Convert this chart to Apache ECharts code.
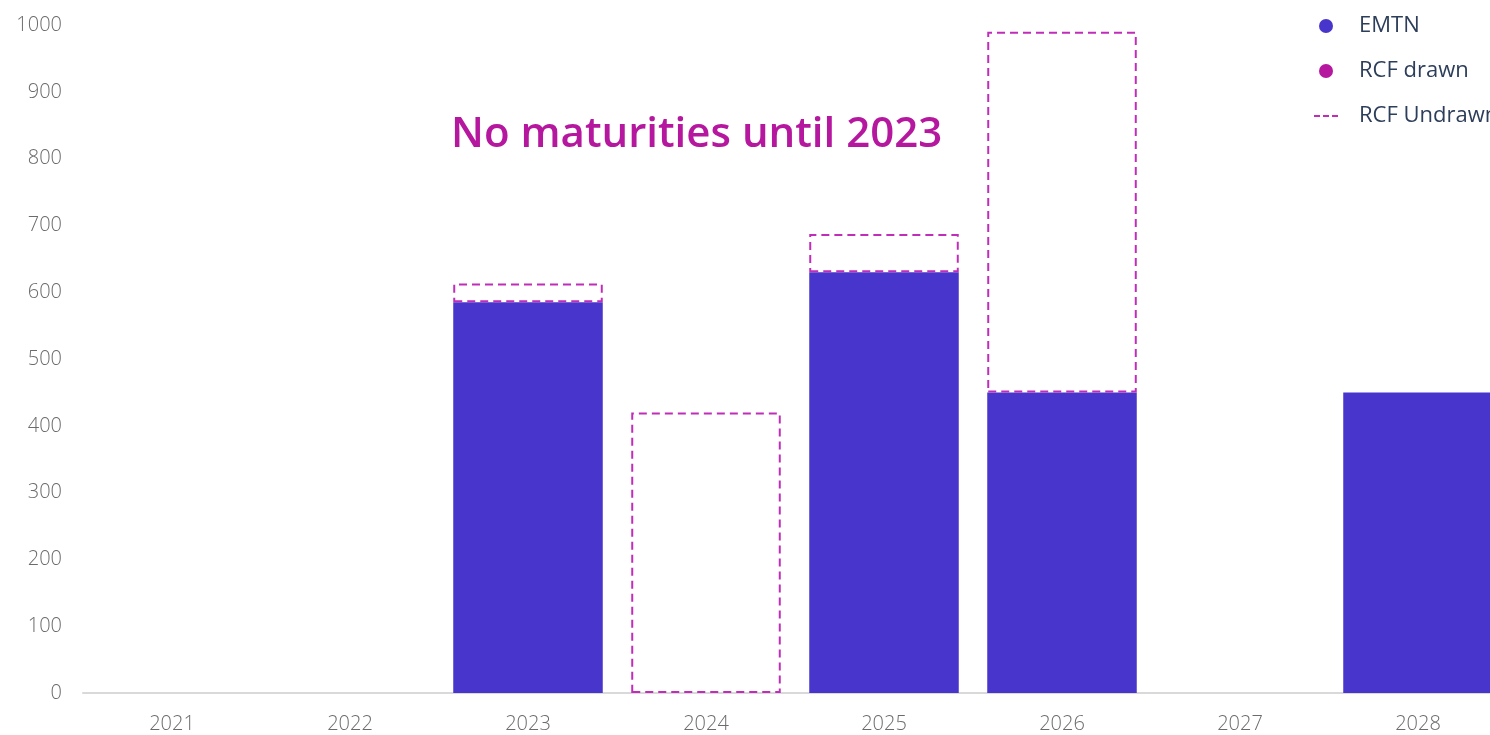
<!DOCTYPE html>
<html>
<head>
<meta charset="utf-8">
<script src="https://cdn.jsdelivr.net/npm/echarts@6/dist/echarts.min.js"></script>
<style>
  html, body { margin: 0; padding: 0; background: #ffffff; overflow: hidden; }
  #chart { width: 1600px; height: 735px; }
</style>
</head>
<body>
<div id="chart"></div>
<script>
// Debt maturity profile (EUR m)
const years = ['2021', '2022', '2023', '2024', '2025', '2026', '2027', '2028'];
const emtn = [0, 0, 585, 0, 630, 450, 0, 450];
const rcfDrawn = [0, 0, 0, 0, 0, 0, 0, 0];
const rcfUndrawn = [0, 0, 28, 420, 57, 540, 0, 0];
const yTicks = [0, 100, 200, 300, 400, 500, 600, 700, 800, 900, 1000];

const EMTN_COLOR = '#4836cc';
const DRAWN_COLOR = '#b5179e';
const UNDRAWN_COLOR = '#c02db8';

// empty slots are skipped so zero-height outlined bars are not drawn
const skipZero = arr => arr.map(v => (v === 0 ? '-' : v));

const chart = echarts.init(document.getElementById('chart'));

chart.setOption({
  animation: false,
  textStyle: { fontFamily: 'Open Sans' },
  grid: { left: 83, right: 93, top: 25, bottom: 42, containLabel: false },
  legend: {
    orient: 'vertical',
    left: 1309,
    top: 10,
    itemWidth: 24,
    itemHeight: 14,
    itemGap: 23,
    textStyle: { color: '#2d3e5a', fontSize: 22, padding: [0, 0, 0, 16] },
    data: [
      { name: 'EMTN', icon: 'circle', itemStyle: { color: EMTN_COLOR, borderWidth: 0 } },
      { name: 'RCF drawn', icon: 'circle', itemStyle: { color: DRAWN_COLOR, borderWidth: 0 } },
      { name: 'RCF Undrawn', icon: 'path://M0,6h6v2h-6z M9,6h6v2h-6z M18,6h6v2h-6z',
        itemStyle: { color: UNDRAWN_COLOR, borderWidth: 0 } }
    ]
  },
  xAxis: {
    type: 'category',
    data: years,
    axisLine: { show: true, lineStyle: { color: '#d9d9d9', width: 2 } },
    axisTick: { show: false },
    axisLabel: { color: '#6b6b6b', fontSize: 20, fontWeight: 300, margin: 21 }
  },
  yAxis: {
    type: 'value',
    min: yTicks[0],
    max: yTicks[yTicks.length - 1],
    interval: 100,
    splitLine: { show: false },
    axisLine: { show: false },
    axisTick: { show: false },
    axisLabel: {
      color: '#6b6b6b', fontSize: 20, fontWeight: 300, margin: 21,
      formatter: v => String(v)
    }
  },
  graphic: [
    {
      type: 'text',
      left: 451,
      top: 114,
      style: {
        text: 'No maturities until 2023',
        fill: '#b5179e',
        font: '600 42px "Open Sans"'
      }
    }
  ],
  series: [
    {
      name: 'EMTN',
      type: 'bar',
      stack: 'debt',
      barWidth: '84%',
      itemStyle: { color: EMTN_COLOR },
      data: emtn
    },
    {
      name: 'RCF drawn',
      type: 'bar',
      stack: 'debt',
      itemStyle: { color: DRAWN_COLOR },
      data: skipZero(rcfDrawn)
    },
    {
      name: 'RCF Undrawn',
      type: 'bar',
      stack: 'debt',
      itemStyle: {
        color: 'rgba(0,0,0,0)',
        borderColor: UNDRAWN_COLOR,
        borderWidth: 2,
        borderType: [8, 5]
      },
      data: skipZero(rcfUndrawn)
    }
  ]
});
</script>
</body>
</html>
